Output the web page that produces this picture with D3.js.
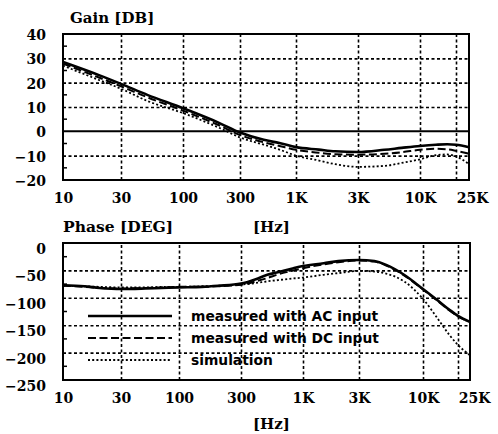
<!DOCTYPE html>
<html lang="en">
<head>
	<meta charset="utf-8"/>
	<title>Gain and phase</title>
	<script src="https://d3js.org/d3.v7.min.js"></script>
	<style>
		body { margin: 0; background: #fff; }
		.tick text, .title { font-family: "DejaVu Serif", serif; font-weight: bold; fill: #000; }
		.grid line { stroke: #000; stroke-width: 1.6px; stroke-dasharray: 3,2.5; }
		.grid .domain { display: none; }
		.legend text { font-family: "DejaVu Sans", sans-serif; font-weight: bold; font-size: 13.8px; }
	</style>
</head>
<body>
<div id="chart"></div>

<script>
	// frequency axis (Hz)
	var freqTicks = [10, 30, 100, 300, 1000, 3000, 10000, 25000];
	var freqLabels = ["10", "30", "100", "300", "1K", "3K", "10K", "25K"];

	// gain panel (dB)
	var gainTicks = [40, 30, 20, 10, 0, -10, -20];
	var gainFreq = [10, 20, 30, 50, 100, 200, 300, 500, 700, 1000, 1500, 2000, 3000, 5000, 7000, 10000, 15000, 20000, 25000, 35000];
	var gainAC   = [28.5, 23, 19.5, 15, 9.5, 3.5, -0.5, -3.5, -4.8, -6.5, -7.5, -8.2, -8.5, -7.6, -6.8, -6, -5.5, -5.3, -5.5, -6.5];
	var gainDC   = [27.8, 22, 18.5, 14, 8.5, 2.5, -1.5, -4.5, -6, -7.6, -8.8, -9.4, -9.6, -9.2, -8.6, -7.6, -7.2, -7.4, -8, -9.2];
	var gainSim  = [27, 21, 17.5, 12.5, 7.5, 1.5, -2.5, -5.5, -7.5, -10, -12, -13.5, -14.6, -14.2, -13, -11.5, -9.8, -9.5, -10.3, -13.5];

	// phase panel (deg)
	var phaseTicks = [0, -50, -100, -150, -200, -250];
	var phaseFreq = [10, 15, 20, 30, 50, 70, 100, 150, 200, 300, 400, 500, 600, 800, 1000, 1500, 2000, 3000, 4000, 5000, 7000, 10000, 15000, 20000, 25000, 35000];
	var phaseAC   = [-77, -79, -82, -84, -83, -82, -81, -80, -78, -74, -66, -58, -54, -47, -42, -37, -33, -31, -33, -40, -58, -84, -106, -122, -133, -144];
	var phaseDC   = [-78, -80, -82, -83, -82, -81, -80, -80, -79, -76, -70, -64, -58, -51, -46, -39, -35, -32, -34, -41, -59, -85, -107, -123, -134, -144];
	var phaseSim  = [-78, -79, -80, -81, -81, -80, -80, -79, -78, -76, -73, -70, -68, -65, -63, -58, -55, -51, -52, -56, -70, -102, -140, -168, -186, -205];

	var legendLabels = ["measured with AC input", "measured with DC input", "simulation"];

	var width = 498,
		height = 434;

	var svg = d3.select("#chart").append("svg")
		.attr("width", width)
		.attr("height", height);

	svg.append("rect").attr("width", width).attr("height", height).attr("fill", "#fff");

	// the paper's frequency axis is not quite logarithmic, so the grid points are pinned
	var freqDomain = freqTicks.concat([35000]);
	var xTop = d3.scaleLog().domain(freqDomain).range([63, 121, 183, 240, 296, 358, 420, 456, 469]);
	var xBot = d3.scaleLog().domain(freqDomain).range([63, 121, 179, 241, 303, 359, 423, 458, 470]);

	var yTop = d3.scaleLinear().domain([-20, 40]).range([180, 34]);
	var yBot = d3.scaleLinear().domain([-250, 0]).range([380, 243]);

	var styles = [
		{ w: 2.6, dash: null },
		{ w: 2.0, dash: "8,3.5" },
		{ w: 1.8, dash: "2,2.2" }
	];

	function panel(x, y, yTicks, minor, labelDy, series, freq) {
		var x0 = x.range()[0], x1 = x.range()[x.range().length - 1],
			y0 = y.range()[1], y1 = y.range()[0];
		var g = svg.append("g");

		// vertical grid
		g.append("g")
			.attr("class", "grid")
			.attr("transform", "translate(0," + y1 + ")")
			.call(d3.axisBottom(x).tickValues(freqTicks.slice(1)).tickSize(-(y1 - y0)).tickFormat(""));

		// horizontal grid
		g.append("g")
			.attr("class", "grid")
			.attr("transform", "translate(" + x0 + ",0)")
			.call(d3.axisLeft(y).tickValues(yTicks.filter(function(d) { return d !== 0 && d !== y.domain()[0] && d !== y.domain()[1]; }))
				.tickSize(-(x1 - x0)).tickFormat(""));

		if (y.domain()[0] < 0 && y.domain()[1] > 0) {
			g.append("line")
				.attr("x1", x0).attr("x2", x1)
				.attr("y1", y(0)).attr("y2", y(0))
				.attr("stroke", "#000").attr("stroke-width", 2);
		}

		// small ticks on the left edge
		g.selectAll(".minor")
			.data(minor)
			.enter().append("line")
			.attr("x1", x0).attr("x2", x0 + 4)
			.attr("y1", function(d) { return y(d); })
			.attr("y2", function(d) { return y(d); })
			.attr("stroke", "#000").attr("stroke-width", 1.5);

		var line = d3.line()
			.x(function(d) { return x(d[0]); })
			.y(function(d) { return y(d[1]); })
			.curve(d3.curveMonotoneX);

		series.forEach(function(s, i) {
			g.append("path")
				.datum(freq.map(function(f, j) { return [f, s[j]]; }))
				.attr("d", line)
				.attr("fill", "none")
				.attr("stroke", "#000")
				.attr("stroke-width", styles[i].w)
				.attr("stroke-dasharray", styles[i].dash);
		});

		g.append("rect")
			.attr("x", x0).attr("y", y0)
			.attr("width", x1 - x0).attr("height", y1 - y0)
			.attr("fill", "none").attr("stroke", "#000").attr("stroke-width", 2);

		// y labels
		var ya = g.append("g")
			.attr("transform", "translate(" + x0 + ",0)")
			.call(d3.axisLeft(y).tickValues(yTicks).tickSize(0).tickPadding(17));
		ya.select(".domain").remove();
		ya.selectAll("text").attr("font-size", 14).attr("dy", labelDy);

		// x labels
		var xa = g.append("g")
			.attr("transform", "translate(0," + y1 + ")")
			.call(d3.axisBottom(x).tickValues(freqTicks).tickSize(0)
				.tickFormat(function(d, i) { return freqLabels[i]; }));
		xa.select(".domain").remove();
		xa.selectAll("text")
			.attr("font-size", 14)
			.attr("y", 23).attr("dy", 0)
			.attr("dx", function(d, i) { return i === freqTicks.length - 1 ? 16 : 0; });

		return g;
	}

	panel(xTop, yTop, gainTicks, [35, 25, 15, 5, -5, -15], "0.4em", [gainAC, gainDC, gainSim], gainFreq);
	var bottom = panel(xBot, yBot, phaseTicks, [-25, -75, -125, -175, -225], "0.75em", [phaseAC, phaseDC, phaseSim], phaseFreq);

	// titles
	svg.append("text").attr("class", "title").attr("x", 70).attr("y", 23).attr("font-size", 15).text("Gain [DB]");
	svg.append("text").attr("class", "title").attr("x", 63).attr("y", 232).attr("font-size", 15.5).text("Phase [DEG]");
	svg.append("text").attr("class", "title").attr("x", 253).attr("y", 232).attr("font-size", 15).text("[Hz]");
	svg.append("text").attr("class", "title").attr("x", 253).attr("y", 429).attr("font-size", 15).text("[Hz]");

	// legend
	var legend = bottom.append("g")
		.attr("class", "legend")
		.selectAll("g")
		.data(legendLabels)
		.enter().append("g")
		.attr("transform", function(d, i) { return "translate(0," + (316 + i * 22) + ")"; });

	legend.append("line")
		.attr("x1", 88).attr("x2", 172)
		.attr("stroke", "#000")
		.attr("stroke-width", function(d, i) { return styles[i].w; })
		.attr("stroke-dasharray", function(d, i) { return styles[i].dash; });

	legend.append("text")
		.attr("x", 191)
		.attr("dy", "0.36em")
		.text(function(d) { return d; });
</script>
</body>
</html>
